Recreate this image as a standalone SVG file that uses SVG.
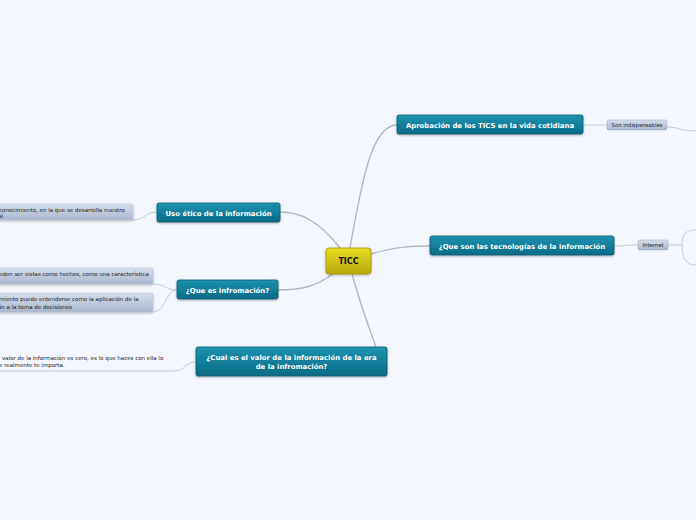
<svg xmlns="http://www.w3.org/2000/svg" width="696" height="520" viewBox="0 0 696 520">
<defs>
<linearGradient id="gTeal" x1="0" y1="0" x2="0" y2="1"><stop offset="0" stop-color="#1c93b0"/><stop offset="1" stop-color="#0a6a86"/></linearGradient>
<linearGradient id="gYel" x1="0" y1="0" x2="0" y2="1"><stop offset="0" stop-color="#e8dc22"/><stop offset="1" stop-color="#b9aa0c"/></linearGradient>
<linearGradient id="gLeaf" x1="0" y1="0" x2="0" y2="1"><stop offset="0" stop-color="#d6deec"/><stop offset="1" stop-color="#a9b6cc"/></linearGradient>
<filter id="sh" x="-10%" y="-30%" width="120%" height="170%"><feDropShadow dx="0" dy="1" stdDeviation="0.8" flood-color="#000" flood-opacity="0.3"/></filter>
</defs>
<style>
.main rect{fill:url(#gTeal);stroke:#0b5b73;stroke-width:0.8;filter:url(#sh)}
.main text{font-family:"DejaVu Sans",Verdana,sans-serif;font-weight:bold;font-size:6.9px;fill:#fff;text-anchor:middle}
.sub rect{fill:url(#gLeaf);stroke:#9aa8c0;stroke-width:0.5}
.sub text{font-family:"DejaVu Sans",Verdana,sans-serif;font-size:5.3px;fill:#222;text-anchor:middle}
.leaf rect{fill:url(#gLeaf);stroke:#b8c3d6;stroke-width:0.5;filter:url(#sh)}
.leaf text{font-family:"DejaVu Sans",Verdana,sans-serif;font-size:5.5px;fill:#1e1e1e}
.conn path{fill:none;stroke:#b2b7c2;stroke-width:1.4}
.conn path.thin{stroke:#c6cbd5;stroke-width:1}
</style>
<rect width="696" height="520" fill="#f3f6fd"/>
<g class="conn">
<path d="M350,248 C362,180 372,125 397,125"/>
<path d="M371,254 C395,247 410,246 430,246"/>
<path d="M340,248 C318,220 300,212 280,212"/>
<path d="M334,273 C316,287 300,290 278,290"/>
<path d="M352,274 C362,310 370,330 376,347"/>
<path class="thin" d="M583,125 C595,125 596,125 607,125"/>
<path class="thin" d="M667,127 C680,127 680,131 696,131"/>
<path class="thin" d="M614,246 C626,246 627,245 638,245"/>
<path class="thin" d="M668,245 L682,245 M696,230 C686,230 682,234 682,245 C682,258 686,265 696,265"/>
<path class="thin" d="M157,212 C145,212 145,220 133,220"/>
<path class="thin" d="M177,290 C165,290 166,284 153,284"/>
<path class="thin" d="M177,290 C165,290 166,312 153,312"/>
<path class="thin" d="M196,362 C184,362 186,371 174,371 L0,371"/>
</g>
<g id="ticc">
<rect x="326" y="248" width="45" height="26" rx="3" fill="url(#gYel)" stroke="#a3950c" stroke-width="0.8" filter="url(#sh)"/>
<text x="348.5" y="264" font-family="DejaVu Sans,Verdana,sans-serif" font-weight="bold" font-size="8" text-anchor="middle" fill="#111">TICC</text>
</g>
<g id="aprobacion" class="main"><rect x="397" y="115" width="186" height="19" rx="2"/><text x="490" y="127.5">Aprobación de los TICS en la vida cotidiana</text></g>
<g id="queson" class="main"><rect x="430" y="236" width="184" height="19" rx="2"/><text x="522" y="248.5">¿Que son las tecnologías de la información</text></g>
<g id="usoetico" class="main"><rect x="157" y="203" width="123" height="19" rx="2"/><text x="218.5" y="215.5">Uso ético de la información</text></g>
<g id="quees" class="main"><rect x="177" y="280" width="101" height="19" rx="2"/><text x="227.5" y="292.5">¿Que es infromación?</text></g>
<g id="cual" class="main"><rect x="196" y="347" width="191" height="29" rx="2"/><text x="291.5" y="359.5">¿Cual es el valor de la información de la era</text><text x="291.5" y="369">de la infromación?</text></g>
<g id="indispensables" class="sub"><rect x="607" y="120" width="60" height="10" rx="1.5"/><text x="637" y="127">Son indispensables</text></g>
<g id="internet" class="sub"><rect x="638" y="240" width="30" height="10" rx="1.5"/><text x="653" y="247">Internet</text></g>
<g id="leaf1" class="leaf"><rect x="-4" y="204" width="137" height="16" rx="2"/><text x="-1" y="211.5">conocimiento, en la que se desarrolla nuestro</text><text x="-2" y="217.8">al.</text></g>
<g id="leaf2" class="leaf"><rect x="-4" y="268" width="157" height="16" rx="2"/><text x="-1" y="275.5">eden ser vistas como hechos, como una característica</text></g>
<g id="leaf3" class="leaf"><rect x="-4" y="293" width="157" height="19" rx="2"/><text x="-1" y="301">miento puede entenderse como la aplicación de la</text><text x="-2" y="308.5">ón a la toma de decisiones</text></g>
<g id="leaf4" class="leaf"><text x="2" y="359.5">valor de la información es cero, es lo que haces con ella lo</text><text x="-1" y="366.5">e realmente te importa.</text></g>
</svg>
